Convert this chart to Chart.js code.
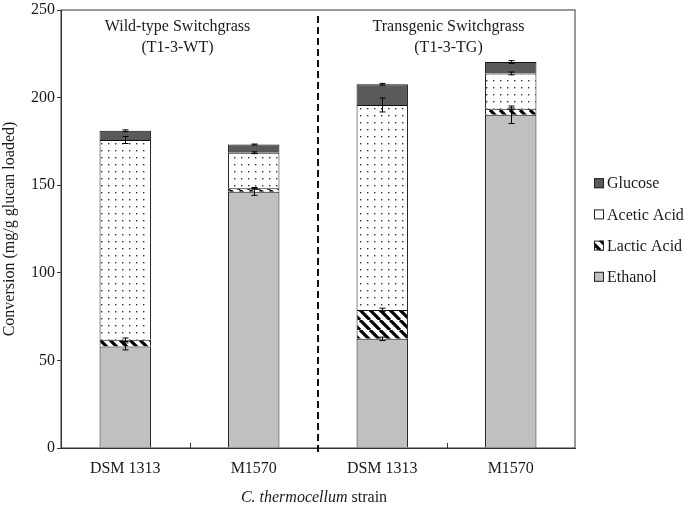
<!DOCTYPE html>
<html lang="en">
<head>
  <meta charset="UTF-8">
  <title>Conversion by strain</title>
  <script src="https://cdn.jsdelivr.net/npm/chart.js"></script>
  <style>
    body {
      margin: 0;
      padding: 0;
      background: #ffffff;
    }
    .wrap {
      width: 685px;
      height: 512px;
    }
  </style>
</head>
<body>
  <div class="wrap">
    <canvas id="grafico"></canvas>
  </div>

  <script>
    // categories (strain) - first two wild-type, last two transgenic
    const strains = ['DSM 1313', 'M1570', 'DSM 1313', 'M1570'];
    const yTicks = [0, 50, 100, 150, 200, 250];

    // mg/g glucan loaded, stacked bottom to top
    const ethanol = [58, 146.2, 62.3, 190.2];
    const lactic = [3.8, 2, 16.5, 3.4];
    const acetic = [114, 20.3, 117, 20.2];
    const glucose = [5.3, 4.7, 11.8, 6.5];

    // error bars (+/-) at the top of each segment
    const ethanolErr = [2, 2, 1, 5];
    const lacticErr = [1, 0.5, 1, 0.5];
    const aceticErr = [2, 0.5, 4, 0.8];
    const glucoseErr = [0.5, 0.3, 0.5, 0.8];

    const groupTitles = [
      ['Wild-type Switchgrass', '(T1-3-WT)'],
      ['Transgenic Switchgrass', '(T1-3-TG)']
    ];

    const fonte = 'Liberation Serif, Times New Roman, serif';
    const corTexto = '#1a1a1a';

    // patterns
    function padraoListras() {
      const c = document.createElement('canvas');
      c.width = 10; c.height = 10;
      const g = c.getContext('2d');
      g.fillStyle = '#fff';
      g.fillRect(0, 0, 10, 10);
      g.strokeStyle = '#000';
      g.lineWidth = 3.2;
      g.beginPath();
      for (let k = -10; k <= 20; k += 10) {
        g.moveTo(k, 0);
        g.lineTo(k + 10, 10);
      }
      g.stroke();
      return g.createPattern(c, 'repeat');
    }

    function padraoPontos() {
      const c = document.createElement('canvas');
      c.width = 7; c.height = 7;
      const g = c.getContext('2d');
      g.fillStyle = '#fff';
      g.fillRect(0, 0, 7, 7);
      g.fillStyle = '#333';
      g.fillRect(3, 3, 1.4, 1.4);
      return g.createPattern(c, 'repeat');
    }

    const ctx = document.getElementById('grafico').getContext('2d');
    const listras = padraoListras();
    const pontos = padraoPontos();

    const erros = [ethanolErr, lacticErr, aceticErr, glucoseErr];

    const extras = {
      id: 'extras',
      afterDatasetsDraw(chart) {
        const c = chart.ctx;
        const area = chart.chartArea;
        const x = chart.scales.x;
        const y = chart.scales.y;

        // error bars
        c.save();
        c.strokeStyle = '#000';
        c.lineWidth = 1;
        const acumulado = strains.map(() => 0);
        chart.data.datasets.forEach((ds, i) => {
          const meta = chart.getDatasetMeta(i);
          ds.data.forEach((v, j) => {
            acumulado[j] += v;
            const e = erros[i][j];
            const px = Math.round(meta.data[j].x) + 0.5;
            const y1 = y.getPixelForValue(acumulado[j] + e);
            const y2 = y.getPixelForValue(acumulado[j] - e);
            c.beginPath();
            c.moveTo(px, y1); c.lineTo(px, y2);
            c.moveTo(px - 3, y1); c.lineTo(px + 3, y1);
            c.moveTo(px - 3, y2); c.lineTo(px + 3, y2);
            c.stroke();
          });
        });
        c.restore();

        // frame
        c.save();
        c.strokeStyle = '#333';
        c.lineWidth = 1;
        c.strokeRect(area.left, area.top, area.right - area.left, area.bottom - area.top);

        // inner ticks between categories
        [0, 2].forEach(i => {
          const px = Math.round((x.getPixelForValue(i) + x.getPixelForValue(i + 1)) / 2) + 0.5;
          c.beginPath();
          c.moveTo(px, area.bottom);
          c.lineTo(px, area.bottom - 5);
          c.stroke();
        });

        // dashed separator
        const sep = Math.round((x.getPixelForValue(1) + x.getPixelForValue(2)) / 2);
        c.strokeStyle = '#111';
        c.lineWidth = 2;
        c.setLineDash([7, 4]);
        c.beginPath();
        c.moveTo(sep, area.top + 6);
        c.lineTo(sep, area.bottom + 4);
        c.stroke();
        c.setLineDash([]);

        // group titles
        c.fillStyle = corTexto;
        c.font = '16px ' + fonte;
        c.textAlign = 'center';
        c.textBaseline = 'middle';
        const centros = [
          (x.getPixelForValue(0) + x.getPixelForValue(1)) / 2 - 12,
          (x.getPixelForValue(2) + x.getPixelForValue(3)) / 2 + 2
        ];
        groupTitles.forEach((linhas, k) => {
          c.fillText(linhas[0], centros[k], area.top + 17);
          c.fillText(linhas[1], centros[k], area.top + 38);
        });

        // legend on the right, top item is the top of the stack
        const meioY = (area.top + area.bottom) / 2 + 1;
        const passo = 31.2;
        const lx = area.right + 19;
        c.textAlign = 'left';
        const ordem = chart.data.datasets.slice().reverse();
        ordem.forEach((ds, k) => {
          const cy = meioY + (k - 1.5) * passo;
          c.fillStyle = ds.label === 'Acetic Acid' ? '#fff' : ds.backgroundColor;
          c.fillRect(lx, cy - 5, 10, 10);
          c.strokeStyle = '#222';
          c.lineWidth = 1;
          c.strokeRect(lx + 0.5, cy - 4.5, 9, 9);
          c.fillStyle = corTexto;
          c.fillText(ds.label, lx + 13, cy + 1);
        });

        // x axis title, partly italic
        const p1 = 'C. thermocellum';
        const p2 = ' strain';
        c.font = 'italic 16px ' + fonte;
        const w1 = c.measureText(p1).width;
        c.font = '16px ' + fonte;
        const w2 = c.measureText(p2).width;
        const cx = (area.left + area.right) / 2 - 4;
        const inicio = cx - (w1 + w2) / 2;
        c.font = 'italic 16px ' + fonte;
        c.fillText(p1, inicio, 498);
        c.font = '16px ' + fonte;
        c.fillText(p2, inicio + w1, 498);
        c.restore();
      }
    };

    new Chart(ctx, {
      type: 'bar',
      data: {
        labels: strains,
        datasets: [
          { label: 'Ethanol', data: ethanol, backgroundColor: '#c0c0c0' },
          { label: 'Lactic Acid', data: lactic, backgroundColor: listras },
          { label: 'Acetic Acid', data: acetic, backgroundColor: pontos },
          { label: 'Glucose', data: glucose, backgroundColor: '#5a5a5a' }
        ].map(d => Object.assign(d, {
          borderColor: '#111',
          borderWidth: 1,
          barPercentage: 0.5,
          categoryPercentage: 0.8
        }))
      },
      options: {
        responsive: true,
        maintainAspectRatio: false,
        animation: false,
        layout: { padding: { top: 0, right: 110, left: 0, bottom: 0 } },
        plugins: {
          tooltip: { enabled: false },
          legend: { display: false }
        },
        scales: {
          x: {
            stacked: true,
            grid: { display: false },
            border: { display: true, color: '#333' },
            ticks: { color: corTexto, font: { family: fonte, size: 16 }, padding: 3 },
            afterFit: axis => { axis.height = 64; }
          },
          y: {
            stacked: true,
            min: 0,
            max: 250,
            afterBuildTicks: axis => { axis.ticks = yTicks.map(v => ({ value: v })); },
            afterFit: axis => { axis.width = 61; },
            grid: { drawOnChartArea: false, tickLength: 4, color: '#333' },
            border: { display: true, color: '#333' },
            ticks: { color: corTexto, font: { family: fonte, size: 16, lineHeight: 1 }, padding: 2 },
            title: {
              display: true,
              text: 'Conversion (mg/g glucan loaded)',
              color: corTexto,
              font: { family: fonte, size: 16 },
              padding: { top: 0, bottom: 6 }
            }
          }
        }
      },
      plugins: [extras]
    });
  </script>
</body>
</html>
